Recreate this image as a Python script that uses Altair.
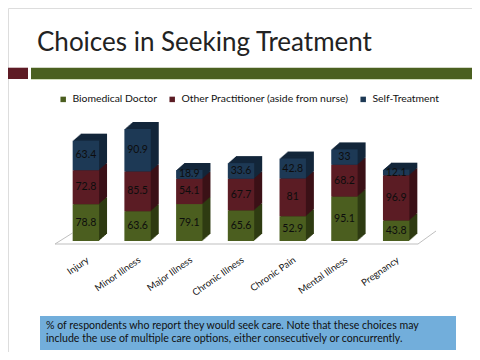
import altair as alt
import pandas as pd

# ---- data ----
categories = ["Injury", "Minor Illness", "Major Illness", "Chronic Illness",
              "Chronic Pain", "Mental Illness", "Pregnancy"]
series = ["Biomedical Doctor", "Other Practitioner (aside from nurse)", "Self-Treatment"]
biomedical = [78.8, 63.6, 79.1, 65.6, 52.9, 95.1, 43.8]
other_pract = [72.8, 85.5, 54.1, 67.7, 81, 68.2, 96.9]
self_treat = [63.4, 90.9, 18.9, 33.6, 42.8, 33, 12.1]

front_colors = ["#4b5e1f", "#5b1c24", "#1d3955"]
side_colors = ["#2f3b12", "#3b1117", "#13263a"]

title_text = "Choices in Seeking Treatment"
note_lines = ["% of respondents who report they would seek care.  Note that these choices may",
              "include the use of multiple care options, either consecutively or concurrently."]

rows = []
for s_i, (name, vals) in enumerate(zip(series, [biomedical, other_pract, self_treat])):
    for c, v in zip(categories, vals):
        rows.append({"cat": c, "series": name, "value": v, "order": s_i,
                     "side": side_colors[s_i]})
df = pd.DataFrame(rows)

FONT = "Lato"

xscale = alt.Scale(domain=categories, range=[52, 414], paddingInner=0.49, paddingOuter=0.245)
yscale = alt.Scale(domain=[0, 300], range=[233, 93], nice=False)

base = alt.Chart(df)

# 3D depth layers (extrusion), drawn from farthest to nearest
depth_layers = []
for k in range(8, 0, -1):
    dy = -0.875 * k
    depth_layers.append(
        base.mark_bar(xOffset=k, x2Offset=k, yOffset=dy, y2Offset=dy).encode(
            x=alt.X("cat:N", scale=xscale, axis=None, sort=categories),
            y=alt.Y("value:Q", scale=yscale, axis=None, stack="zero"),
            order=alt.Order("order:Q"),
            fill=alt.Fill("side:N", scale=None),
        )
    )

front = base.mark_bar().encode(
    x=alt.X("cat:N", scale=xscale, axis=None, sort=categories),
    y=alt.Y("value:Q", scale=yscale, axis=None, stack="zero"),
    order=alt.Order("order:Q"),
    color=alt.Color("series:N", scale=alt.Scale(domain=series, range=front_colors),
                    legend=alt.Legend(title=None, orient="none", legendX=50, legendY=86,
                                      direction="horizontal", symbolType="square",
                                      symbolSize=30, symbolStrokeWidth=0,
                                      labelFont=FONT, labelFontSize=10.4,
                                      labelColor="#111111", columnPadding=9,
                                      labelOffset=4, labelLimit=400)),
)

labels = base.transform_stack(
    stack="value", groupby=["cat"], as_=["y0", "y1"],
    sort=[alt.SortField("order", order="ascending")]
).transform_calculate(mid="(datum.y0 + datum.y1) / 2").mark_text(
    font=FONT, fontSize=10.5, color="#0d0d0d", baseline="middle", align="center"
).encode(
    x=alt.X("cat:N", scale=xscale, axis=None, sort=categories),
    y=alt.Y("mid:Q", scale=yscale, axis=None),
    text=alt.Text("value:N"),
)

cat_df = pd.DataFrame({"cat": categories})
cat_labels = alt.Chart(cat_df).mark_text(
    font=FONT, fontSize=9.5, color="#111111", align="right", baseline="middle",
    angle=325, xOffset=2
).encode(
    x=alt.X("cat:N", scale=xscale, axis=None, sort=categories),
    y=alt.value(251),
    text="cat:N",
)

# floor lines
one = pd.DataFrame({"a": [0]})
floor_front = alt.Chart(one).mark_rule(color="#bfbfbf", strokeWidth=1).encode(
    x=alt.value(47), x2=alt.value(410), y=alt.value(236), y2=alt.value(236))
floor_left = alt.Chart(one).mark_rule(color="#bfbfbf", strokeWidth=1).encode(
    x=alt.value(47), x2=alt.value(64.5), y=alt.value(236), y2=alt.value(225))
floor_right = alt.Chart(one).mark_rule(color="#bfbfbf", strokeWidth=1).encode(
    x=alt.value(410), x2=alt.value(428), y=alt.value(236), y2=alt.value(223))

# slide decorations
red_block = alt.Chart(one).mark_rect(color="#5e1b25").encode(
    x=alt.value(0), x2=alt.value(20), y=alt.value(59.7), y2=alt.value(71))
olive_bar = alt.Chart(one).mark_rect(color="#4b6020").encode(
    x=alt.value(23), x2=alt.value(464), y=alt.value(59.7), y2=alt.value(71))
light_line = alt.Chart(one).mark_rule(color="#d3dfbd", strokeWidth=1).encode(
    x=alt.value(23), x2=alt.value(464), y=alt.value(71.5), y2=alt.value(71.5))

title = alt.Chart(pd.DataFrame({"t": [title_text]})).mark_text(
    font=FONT, fontSize=26, color="#222222", align="left", baseline="alphabetic"
).encode(x=alt.value(29), y=alt.value(42.7), text="t:N")

note_box = alt.Chart(one).mark_rect(color="#72aedb").encode(
    x=alt.value(32), x2=alt.value(448), y=alt.value(308), y2=alt.value(342))
note_df = pd.DataFrame({"line": note_lines, "i": [0, 1]})
note_text = alt.Chart(note_df).mark_text(
    font=FONT, fontSize=10.6, color="#111111", align="left", baseline="alphabetic"
).encode(
    x=alt.value(38),
    y=alt.Y("i:Q", scale=alt.Scale(domain=[0, 1], range=[321, 333.7], nice=False, zero=False),
            axis=None),
    text="line:N",
)

chart = alt.layer(
    red_block, olive_bar, light_line, title,
    floor_front, floor_left, floor_right,
    *depth_layers, front, labels, cat_labels,
    note_box, note_text,
).resolve_scale(y="independent").properties(
    width=464, height=344, padding=0,
    autosize=alt.AutoSizeParams(type="none"),
).configure_view(stroke=None).configure(font=FONT)

chart.save("out.html", embed_options={"renderer": "svg", "actions": False})
